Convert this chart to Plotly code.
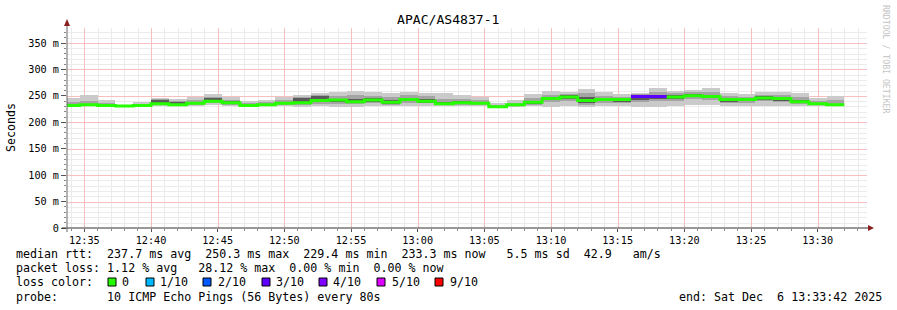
import plotly.graph_objects as go
import pandas as pd

# ---------------- data ----------------
chart_title = "APAC/AS4837-1"
y_axis_title = "Seconds"
first_step_start = "2025-12-06 12:33:20"
step_seconds = 80
window_start = "2025-12-06 12:33:42"
window_end = "2025-12-06 13:33:42"
first_minor = "2025-12-06 12:34:00"

# median rtt per 80 s step (ms)
median_ms = [232, 233, 232, 231, 232, 235, 233, 236, 240, 237,
             232, 233, 236, 237, 241, 242, 239, 242, 238, 243,
             240, 235, 237, 236, 229.4, 233, 238, 245, 248, 241,
             243, 243, 249, 249, 248, 250.3, 249, 243, 243, 246,
             245, 239, 235, 233.3]
# smoke: slowest ping (top) and fastest ping (bottom)
ping_max = [246, 252, 243, 233, 238, 246, 244, 248, 253, 248,
            241, 243, 248, 252, 256, 258, 260, 257, 255, 258,
            255, 255, 252, 248, 236, 242, 253, 260, 258, 263,
            258, 254, 255, 265, 260, 261, 265, 255, 253, 258,
            258, 255, 246, 250]
ping_min = [229, 230, 230, 229, 229, 230, 230, 231, 232, 231,
            228, 230, 230, 229, 230, 229, 229, 230, 230, 231,
            230, 230, 230, 230, 228, 229, 230, 229, 231, 229,
            230, 230, 229, 229, 230, 232, 232, 230, 231, 231,
            231, 230, 230, 230]
# middle smoke band
ping_hi2 = [238, 240, 237, 232, 235, 244, 241, 243, 247, 243,
            237, 238, 242, 247, 252, 250, 252, 250, 248, 251,
            250, 245, 245, 242, 232, 237, 246, 252, 253, 255,
            250, 248, 253, 258, 255, 257, 258, 250, 248, 252,
            252, 248, 240, 242]
ping_lo2 = [230, 231, 231, 230, 230, 232, 231, 233, 236, 233,
            229, 231, 232, 233, 235, 235, 234, 236, 233, 237,
            236, 232, 233, 232, 228.5, 230, 233, 238, 240, 233,
            236, 236, 238, 240, 240, 244, 242, 236, 237, 240,
            238, 234, 232, 231]
# inner (dark) smoke band
ping_hi3 = [234, 235, 233, 231.5, 233, 242, 239, 238, 246, 240,
            233, 235, 238, 246, 250, 245, 244, 246, 242, 246,
            244, 238, 241, 238, 230, 234, 241, 248, 251, 247,
            246, 245, 250, 252, 251, 253, 252, 246, 245, 249,
            247, 242, 237, 235]
ping_lo3 = [231, 232, 231, 230.5, 231, 233, 232, 234, 238, 235,
            231, 232, 234, 235, 238, 239, 236, 238, 235, 240,
            237, 233, 235, 234, 229, 232, 235, 242, 244, 237,
            240, 238, 243, 245, 245, 248, 246, 239, 240, 243,
            241, 236, 233, 232]
# lost pings out of 10 per step
loss_of_10 = [0, 0, 0, 0, 0, 0, 0, 0, 0, 0,
              0, 0, 0, 0, 0, 0, 0, 0, 0, 0,
              0, 0, 0, 0, 0, 0, 0, 0, 0, 0,
              0, 0, 3, 3, 0, 0, 0, 0, 0, 0,
              0, 0, 0, 0]

loss_levels = [0, 1, 2, 3, 4, 5, 9]
loss_labels = ["0", "1/10", "2/10", "3/10", "4/10", "5/10", "9/10"]
loss_colors = ["#26ff00", "#00b8ff", "#0059ff", "#5e00ff", "#7e00ff", "#dd00ff", "#ff0000"]

y_tick_vals = [0, 50, 100, 150, 200, 250, 300, 350]
y_tick_text = ["0", "50 m", "100 m", "150 m", "200 m", "250 m", "300 m", "350 m"]
y_minor_step = 10

legend_lines = [
    "median rtt:  237.7 ms avg  250.3 ms max  229.4 ms min  233.3 ms now   5.5 ms sd  42.9   am/s",
    "packet loss: 1.12 % avg   28.12 % max  0.00 % min  0.00 % now",
    "loss color:",
    "probe:       10 ICMP Echo Pings (56 Bytes) every 80s",
]
end_text = "end: Sat Dec  6 13:33:42 2025"
watermark = "RRDTOOL / TOBI OETIKER"

# ---------------- geometry helpers ----------------
W, H = 897, 310
L, R, T, B = 67, 867, 28, 228
Y_TOP = 378.4
MONO = "DejaVu Sans Mono"


def px(X):
    return (X - L) / (R - L)


def py(Y):
    return (B - Y) / (B - T)


def nb(s):
    return s.replace(" ", "\u00a0")


n = len(median_ms)
starts = pd.date_range(first_step_start, periods=n, freq=f"{step_seconds}s")
centers = starts + pd.Timedelta(seconds=step_seconds / 2)
width_ms = step_seconds * 1000
t_start = pd.Timestamp(window_start)
t_end = pd.Timestamp(window_end)
span_s = (t_end - t_start).total_seconds()

fig = go.Figure()

bands = [
    (ping_min, ping_max, "#cacaca"),
    (ping_lo2, ping_hi2, "#a4a4a4"),
    (ping_lo3, ping_hi3, "#5a5a5a"),
]
for lo, hi, col in bands:
    fig.add_trace(go.Bar(
        x=centers, base=lo, y=[h - l for h, l in zip(hi, lo)],
        width=width_ms, marker=dict(color=col, line=dict(width=0)),
        hoverinfo="skip", showlegend=False))

# median line, one trace per loss colour
for lvl, col in zip(loss_levels, loss_colors):
    xs, ys = [], []
    i = 0
    while i < n:
        if loss_of_10[i] == lvl:
            j = i
            while j + 1 < n and loss_of_10[j + 1] == lvl:
                j += 1
            for k in range(i, j + 1):
                xs.append(starts[k]); ys.append(median_ms[k])
            xs.append(starts[j] + pd.Timedelta(seconds=step_seconds)); ys.append(median_ms[j])
            xs.append(None); ys.append(None)
            i = j + 1
        else:
            i += 1
    if xs:
        fig.add_trace(go.Scatter(x=xs, y=ys, mode="lines", line=dict(color=col, width=3, shape="hv"),
                                 connectgaps=False, hoverinfo="skip", showlegend=False))

fig.update_layout(
    width=W, height=H, autosize=False,
    margin=dict(l=L, r=W - R, t=T, b=H - B),
    paper_bgcolor="white", plot_bgcolor="white",
    barmode="overlay", bargap=0,
    font=dict(family=MONO, color="#000000"),
    showlegend=False,
)

major_grid = "#f7c0c0"
minor_grid = "#ebebeb"

fig.update_xaxes(
    type="date", range=[window_start, window_end],
    tick0="2025-12-06 12:35:00", dtick=300000, tickformat="%H:%M",
    tickfont=dict(family=MONO, size=10.2, color="#000"),
    showgrid=False,
    ticks="outside", ticklen=3, tickcolor="#555",
    minor=dict(dtick=60000, tick0="2025-12-06 12:35:00", showgrid=False,
               ticks="outside", ticklen=2, tickcolor="#888"),
    showline=False, zeroline=False, fixedrange=True,
)
fig.update_yaxes(
    range=[0, Y_TOP], tickvals=y_tick_vals, ticktext=y_tick_text,
    tickfont=dict(family=MONO, size=10.2, color="#000"),
    showgrid=False,
    ticks="outside", ticklen=5, tickcolor="#555",
    minor=dict(dtick=y_minor_step, showgrid=False, ticks="outside", ticklen=2, tickcolor="#888"),
    showline=False, zeroline=False, fixedrange=True,
)

shapes = []
# vertical grid: every minute, 5-minute lines in red (pixel aligned)
minor_v, major_v = [], []
for t in pd.date_range(first_minor, window_end, freq="60s"):
    Xg = int(round(L + (t - t_start).total_seconds() / span_s * (R - L))) + 0.5
    (major_v if t.minute % 5 == 0 else minor_v).append(Xg)
# horizontal grid: every 10 ms, 50 ms lines in red
minor_h, major_h = [], []
v = y_minor_step
while v < Y_TOP:
    Yg = int(round(B - v / Y_TOP * (B - T))) + 0.5
    (major_h if v % 50 == 0 else minor_h).append(Yg)
    v += y_minor_step

for Xg in minor_v:
    shapes.append(dict(type="line", xref="paper", yref="paper", x0=px(Xg), x1=px(Xg), y0=0, y1=1,
                       layer="below", line=dict(color=minor_grid, width=1)))
for Yg in minor_h:
    shapes.append(dict(type="line", xref="paper", yref="paper", x0=0, x1=1, y0=py(Yg), y1=py(Yg),
                       layer="below", line=dict(color=minor_grid, width=1)))
for Xg in major_v:
    shapes.append(dict(type="line", xref="paper", yref="paper", x0=px(Xg), x1=px(Xg), y0=0, y1=1,
                       layer="below", line=dict(color=major_grid, width=1)))
for Yg in major_h:
    shapes.append(dict(type="line", xref="paper", yref="paper", x0=0, x1=1, y0=py(Yg), y1=py(Yg),
                       layer="below", line=dict(color=major_grid, width=1)))
# axes lines
shapes.append(dict(type="line", xref="paper", yref="paper", x0=px(62), x1=px(869), y0=py(228), y1=py(228),
                   line=dict(color="#333333", width=1)))
shapes.append(dict(type="line", xref="paper", yref="paper", x0=px(67), x1=px(67), y0=py(232), y1=py(23),
                   line=dict(color="#666666", width=1)))
# arrows
arrow_col = "#8b1f1f"
shapes.append(dict(type="path", xref="paper", yref="paper",
                   path=f"M {px(64)} {py(26)} L {px(70)} {py(26)} L {px(67)} {py(19)} Z",
                   fillcolor=arrow_col, line=dict(color=arrow_col, width=0)))
shapes.append(dict(type="path", xref="paper", yref="paper",
                   path=f"M {px(868)} {py(225)} L {px(868)} {py(231)} L {px(874)} {py(228)} Z",
                   fillcolor=arrow_col, line=dict(color=arrow_col, width=0)))

annotations = []
annotations.append(dict(text=chart_title, xref="paper", yref="paper", x=px(448), y=py(19),
                        xanchor="center", yanchor="middle", showarrow=False,
                        font=dict(family=MONO, size=13.1, color="#000")))
annotations.append(dict(text=y_axis_title, xref="paper", yref="paper", x=px(11), y=py(127),
                        xanchor="center", yanchor="middle", showarrow=False, textangle=-90,
                        font=dict(family=MONO, size=11.6, color="#000")))
line_y = [254, 268.3, 282.3, 296.7]
for txt, yy in zip(legend_lines, line_y):
    annotations.append(dict(text=nb(txt), xref="paper", yref="paper", x=px(16), y=py(yy),
                            xanchor="left", yanchor="middle", showarrow=False, borderpad=0, borderwidth=0,
                            font=dict(family=MONO, size=11.65, color="#000")))
annotations.append(dict(text=nb(end_text), xref="paper", yref="paper", x=px(882), y=py(296.7),
                        xanchor="right", yanchor="middle", showarrow=False, borderpad=0, borderwidth=0,
                        font=dict(family=MONO, size=11.65, color="#000")))
box_x = [108, 146, 203, 262, 319, 377, 435]
label_x = [122, 160, 218, 276, 333, 392, 450]
for bx, lx, col, lab in zip(box_x, label_x, loss_colors, loss_labels):
    shapes.append(dict(type="rect", xref="paper", yref="paper", x0=px(bx), x1=px(bx + 8),
                       y0=py(286), y1=py(278), fillcolor=col, line=dict(color="#000", width=1)))
    annotations.append(dict(text=lab, xref="paper", yref="paper", x=px(lx), y=py(282.3),
                            xanchor="left", yanchor="middle", showarrow=False, borderpad=0, borderwidth=0,
                            font=dict(family=MONO, size=11.65, color="#000")))
annotations.append(dict(text=watermark, xref="paper", yref="paper", x=px(886), y=py(59),
                        xanchor="center", yanchor="middle", showarrow=False, textangle=90,
                        font=dict(family=MONO, size=8.2, color="#c4c4c4")))

fig.update_layout(shapes=shapes, annotations=annotations)
fig.write_html("out.html")
